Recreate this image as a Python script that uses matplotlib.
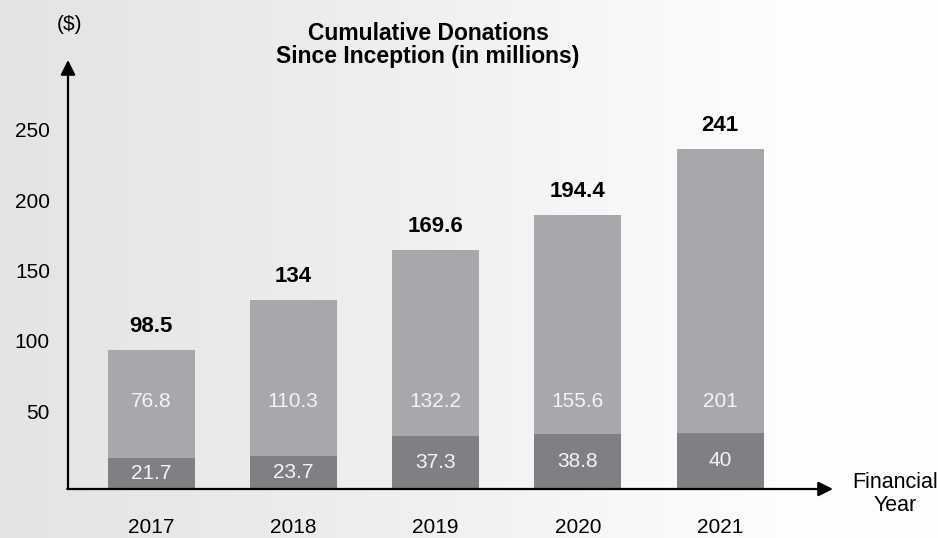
import numpy as np
import matplotlib.pyplot as plt
import matplotlib.transforms as mtransforms

plt.rcParams['font.family'] = ['Liberation Sans', 'DejaVu Sans']

years = ['2017', '2018', '2019', '2020', '2021']
base = [21.7, 23.7, 37.3, 38.8, 40]
added = [76.8, 110.3, 132.2, 155.6, 201]
totals = ['98.5', '134', '169.6', '194.4', '241']
yticks = [50, 100, 150, 200, 250]

dark = '#7f8084'
light = '#a7a8ab'

W, H = 938, 538
fig = plt.figure(figsize=(W / 100, H / 100), dpi=100)

# left-to-right grey-to-white backdrop
bg = fig.add_axes([0, 0, 1, 1], zorder=-10)
xx = np.arange(W)
row = np.interp(xx, [0, 300, 440, 600, 780, W], [0.893, 0.925, 0.943, 0.968, 0.993, 0.997])
shade = np.tile(row, (H, 1))
bg.imshow(np.dstack([shade, shade, np.clip(shade + 0.004, 0, 1)]), aspect='auto',
          extent=[0, 1, 0, 1])
bg.axis('off')

x0, y0, x1, y1 = 68, 489, 833, 60
ax = fig.add_axes([x0 / W, (H - y0) / H, (x1 - x0) / W, (y0 - y1) / H])
ax.patch.set_alpha(0)
px_per_unit = 1.41
step = 142.25
ax.set_ylim(0, (y0 - y1) / px_per_unit)
left = -(151 - x0) / step
ax.set_xlim(left, left + (x1 - x0) / step)

x = np.arange(len(years))
bw = 87 / step
ax.bar(x, base, width=bw, color=dark, zorder=2)
ax.bar(x, added, width=bw, bottom=base, color=light, zorder=2)

for i in range(len(years)):
    ax.text(x[i], base[i] / 2, f'{base[i]:g}', ha='center', va='center',
            color='#f4f4f4', fontsize=15, zorder=3)
    ax.text(x[i], 62, f'{added[i]:g}', ha='center', va='center',
            color='#f4f4f4', fontsize=15, zorder=3)
    ax.annotate(totals[i], (x[i], base[i] + added[i]), xytext=(0, 17),
                textcoords='offset points', ha='center', va='center',
                fontsize=16, fontweight='bold')

for s in ax.spines.values():
    s.set_visible(False)

# axis arrows
arrow = dict(arrowstyle='-|>', lw=1.6, color='black', mutation_scale=22,
             shrinkA=0, shrinkB=0)
ax.annotate('', xy=(0, 1), xytext=(0, 0), xycoords='axes fraction',
            arrowprops=arrow)
ax.annotate('', xy=(1, 0), xytext=(-0.001, 0), xycoords='axes fraction',
            arrowprops=arrow)

ax.set_yticks(yticks)
ax.set_yticklabels([str(v) for v in yticks])
ax.tick_params(axis='y', length=0, pad=13, labelsize=15)
lift = mtransforms.ScaledTranslation(0, 7 / 100, fig.dpi_scale_trans)
for lab in ax.get_yticklabels():
    lab.set_transform(lab.get_transform() + lift)

ax.set_xticks(x)
ax.set_xticklabels(years)
ax.tick_params(axis='x', length=0, pad=21, labelsize=15)

fig.text(70 / W, 1 - 25 / H, '($)', ha='center', va='center', fontsize=15)
fig.text(895 / W, 1 - 494 / H, 'Financial\nYear', ha='center', va='center',
         fontsize=15.5, linespacing=1.1)
fig.text(428 / W, 1 - 45 / H, 'Cumulative Donations\nSince Inception (in millions)',
         ha='center', va='center', fontsize=16.5, fontweight='bold',
         linespacing=1.0)

fig.savefig('out.png', dpi=100)
